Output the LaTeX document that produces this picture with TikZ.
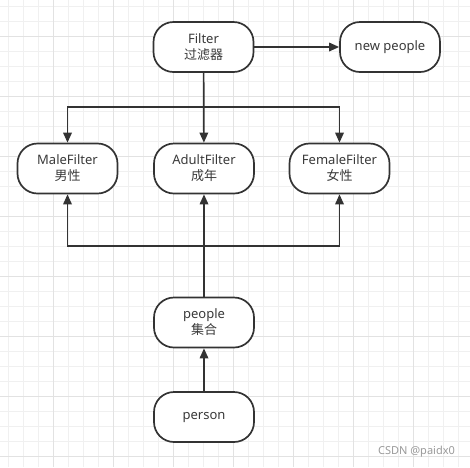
\documentclass[tikz,border=0pt]{standalone}
\usepackage{fontspec}
\setmainfont{Noto Sans}
\newfontfamily\cjk{Noto Sans CJK SC}
\usetikzlibrary{arrows.meta}
\definecolor{gridminor}{HTML}{F0F0F0}
\definecolor{gridmajor}{HTML}{E2E2E2}
\definecolor{ink}{HTML}{333333}
\definecolor{txt}{HTML}{3A3A3A}
\definecolor{wm}{HTML}{9A9A9A}
\tikzset{
  box/.style={draw=ink, line width=1.7pt, rounded corners=20pt, fill=white,
    minimum width=100pt, minimum height=50pt, align=center, text=txt,
    font=\fontsize{13}{16}\selectfont, inner sep=0pt},
  conn/.style={draw=ink, line width=1.7pt},
  arr/.style={conn, -{Triangle[length=10pt,width=8.5pt]}},
}
\begin{document}
\begin{tikzpicture}[x=1pt,y=-1pt]
\useasboundingbox (0,0) rectangle (470,467);
\fill[white] (0,0) rectangle (470,467);
% grid
\foreach \x in {8.33,23.33,...,470} \draw[gridminor, line width=0.8pt] (\x,0) -- (\x,467);
\foreach \y in {6,21,...,467} \draw[gridminor, line width=0.8pt] (0,\y) -- (470,\y);
\foreach \x in {53.33,113.33,...,470} \draw[gridmajor, line width=0.8pt] (\x,0) -- (\x,467);
\foreach \y in {36,96,...,467} \draw[gridmajor, line width=0.8pt] (0,\y) -- (470,\y);
% nodes
\node[box] (filter) at (203.5,47) {Filter\\{\cjk 过滤器}};
\node[box] (newp) at (390,47) {new people};
\node[box] (male) at (67.5,168.5) {MaleFilter\\{\cjk 男性}};
\node[box] (adult) at (204,168.5) {AdultFilter\\{\cjk 成年}};
\node[box] (female) at (339.5,168.5) {FemaleFilter\\{\cjk 女性}};
\node[box] (people) at (204,322.5) {people\\{\cjk 集合}};
\node[box] (person) at (204,417) {person};
\coordinate (topbus) at (204,107);
\coordinate (botbus) at (204,246);
% connectors
\draw[arr] (filter) -- (newp);
\draw[arr] (filter) -- (adult);
\draw[arr] (topbus) -| (male.north);
\draw[arr] (topbus) -| (female.north);
\draw[arr] (people) -- (adult);
\draw[arr] (botbus) -| (male.south);
\draw[arr] (botbus) -| (female.south);
\draw[arr] (person) -- (people);
% watermark
\node[text=wm, font=\fontsize{11}{13}\selectfont, inner sep=0pt] (wmark) at (416.5,452) {CSDN @paidx0};
\end{tikzpicture}
\end{document}
